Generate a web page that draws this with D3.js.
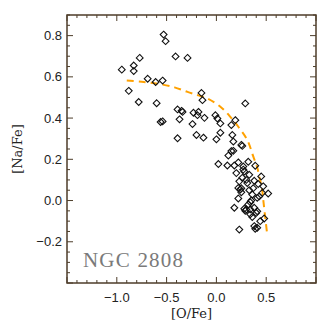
<!DOCTYPE html>
<html>
<head>
<meta charset="utf-8">
<script src="https://cdn.jsdelivr.net/npm/d3@7"></script>
<style>
  body { margin: 0; background: #fff; }
  svg { display: block; }
</style>
</head>
<body>
<svg id="chart" width="332" height="332"></svg>
<script>
// [O/Fe] and [Na/Fe] for each star
const oFe = [-0.95, -0.83, -0.83, -0.77, -0.88, -0.78, -0.69, -0.61, -0.54, -0.60,
  -0.56, -0.54, -0.53, -0.51, -0.41, -0.29, -0.39, -0.35, -0.34, -0.37,
  -0.39, -0.23, -0.24, -0.19, -0.18, -0.20, -0.13, -0.12, -0.15, -0.14,
  -0.01, 0.01, 0.04, 0.00, 0.04, 0.02, 0.15, 0.19, 0.16, 0.17,
  0.25, 0.26, 0.29, 0.17, 0.12, 0.15, 0.11, 0.22, 0.32, 0.39,
  0.27, 0.20, 0.28, 0.33, 0.45, 0.23, 0.31, 0.38, 0.22, 0.24,
  0.25, 0.47, 0.46, 0.36, 0.52, 0.41, 0.22, 0.34, 0.18, 0.32,
  0.30, 0.34, 0.38, 0.41, 0.34, 0.48, 0.44, 0.38, 0.41, 0.39,
  0.23, 0.27, 0.30, 0.35, 0.28, 0.36, 0.40, 0.43, 0.37, 0.26,
  0.33, 0.18, 0.25, 0.29, 0.42];
const naFe = [0.635, 0.655, 0.628, 0.692, 0.532, 0.478, 0.591, 0.575, 0.582, 0.472,
  0.381, 0.384, 0.805, 0.773, 0.699, 0.692, 0.442, 0.435, 0.430, 0.394,
  0.302, 0.426, 0.371, 0.414, 0.430, 0.318, 0.305, 0.401, 0.522, 0.487,
  0.414, 0.398, 0.374, 0.297, 0.329, 0.177, 0.366, 0.390, 0.318, 0.286,
  0.270, 0.265, 0.471, 0.241, 0.218, 0.240, 0.170, 0.185, 0.188, 0.169,
  0.165, 0.133, 0.141, 0.125, 0.117, 0.093, 0.085, 0.096, 0.061, 0.053,
  0.040, 0.069, 0.037, 0.029, 0.034, 0.013, 0.010, -0.008, -0.035, -0.019,
  -0.043, -0.043, -0.035, -0.052, -0.067, -0.087, -0.100, -0.124, -0.132, -0.137,
  -0.141, 0.150, 0.100, 0.000, -0.040, -0.080, -0.060, 0.020, 0.060, 0.110,
  0.050, 0.170, 0.060, -0.050, 0.080];

// dashed model curve
const curveO = [-0.90, -0.75, -0.56, -0.42, -0.29, -0.18, -0.09, 0.04, 0.14, 0.22,
  0.31, 0.37, 0.41, 0.43, 0.46, 0.47, 0.49, 0.51];
const curveNa = [0.582, 0.576, 0.564, 0.549, 0.527, 0.510, 0.495, 0.455, 0.406, 0.358,
  0.294, 0.214, 0.160, 0.117, 0.050, 0.005, -0.080, -0.165];

const xTicks = [-1.0, -0.5, 0.0, 0.5];
const yTicks = [-0.2, 0.0, 0.2, 0.4, 0.6, 0.8];

const W = 332, H = 332;
const m = {left: 67, right: 16, top: 15, bottom: 49};
const frameColor = "#4d3d2a";

const svg = d3.select("#chart");

const x = d3.scaleLinear().domain([-1.5, 1.0]).range([m.left, W - m.right]);
const y = d3.scaleLinear().domain([-0.4, 0.9]).range([H - m.bottom, m.top]);

const fmt = d => (d < 0 ? "\u2212" : "") + Math.abs(d).toFixed(1);

// ticks on all four sides, pointing in
const xMinor = d3.range(-15, 11).map(i => i / 10);
const yMinor = d3.range(-8, 19).map(i => i / 20);
const isMajorX = v => Math.abs(v * 2 - Math.round(v * 2)) < 1e-6;
const isMajorY = v => Math.abs(v * 5 - Math.round(v * 5)) < 1e-6;

const ticks = svg.append("g").attr("stroke", frameColor).attr("stroke-width", 1);
xMinor.forEach(v => {
  const len = isMajorX(v) ? 6 : 3;
  ticks.append("line").attr("x1", x(v)).attr("x2", x(v))
    .attr("y1", y(-0.4)).attr("y2", y(-0.4) - len);
  ticks.append("line").attr("x1", x(v)).attr("x2", x(v))
    .attr("y1", y(0.9)).attr("y2", y(0.9) + len);
});
yMinor.forEach(v => {
  const len = isMajorY(v) ? 6 : 3;
  ticks.append("line").attr("y1", y(v)).attr("y2", y(v))
    .attr("x1", x(-1.5)).attr("x2", x(-1.5) + len);
  ticks.append("line").attr("y1", y(v)).attr("y2", y(v))
    .attr("x1", x(1.0)).attr("x2", x(1.0) - len);
});

svg.append("rect")
  .attr("x", m.left).attr("y", m.top)
  .attr("width", W - m.left - m.right).attr("height", H - m.top - m.bottom)
  .attr("fill", "none").attr("stroke", frameColor).attr("stroke-width", 1.5);

// tick labels
svg.append("g").selectAll("text").data(xTicks).enter().append("text")
  .attr("x", d => x(d)).attr("y", H - m.bottom + 19)
  .attr("text-anchor", "middle")
  .attr("font-family", "Liberation Sans, Arial, sans-serif")
  .attr("font-size", 13).attr("fill", "#222")
  .text(fmt);

svg.append("g").selectAll("text").data(yTicks).enter().append("text")
  .attr("x", m.left - 5).attr("y", d => y(d) + 4.5)
  .attr("text-anchor", "end")
  .attr("font-family", "Liberation Sans, Arial, sans-serif")
  .attr("font-size", 13).attr("fill", "#222")
  .text(fmt);

// axis titles
svg.append("text")
  .attr("x", (m.left + W - m.right) / 2).attr("y", H - 14)
  .attr("text-anchor", "middle")
  .attr("font-family", "DejaVu Serif, serif").attr("font-size", 13).attr("fill", "#222")
  .text("[O/Fe]");

svg.append("text")
  .attr("transform", `translate(22, ${(m.top + H - m.bottom) / 2}) rotate(-90)`)
  .attr("text-anchor", "middle")
  .attr("font-family", "DejaVu Serif, serif").attr("font-size", 13).attr("fill", "#222")
  .text("[Na/Fe]");

// model curve
svg.append("path")
  .datum(d3.zip(curveO, curveNa))
  .attr("d", d3.line().x(d => x(d[0])).y(d => y(d[1])).curve(d3.curveCatmullRom))
  .attr("fill", "none").attr("stroke", "#ffa100").attr("stroke-width", 2)
  .attr("stroke-dasharray", "7,5");

// stars
const diamond = 3.4;
svg.append("g").selectAll("path").data(d3.zip(oFe, naFe)).enter().append("path")
  .attr("transform", d => `translate(${x(d[0])},${y(d[1])})`)
  .attr("d", `M0,${-diamond}L${diamond},0L0,${diamond}L${-diamond},0Z`)
  .attr("fill", "none").attr("stroke", "#111").attr("stroke-width", 1.1);

// label
svg.append("text")
  .attr("x", 83).attr("y", 267)
  .attr("font-family", "Liberation Serif, Times New Roman, serif")
  .attr("font-size", 21).attr("fill", "#7a7a7a")
  .attr("textLength", 100).attr("lengthAdjust", "spacing")
  .text("NGC 2808");
</script>
</body>
</html>
